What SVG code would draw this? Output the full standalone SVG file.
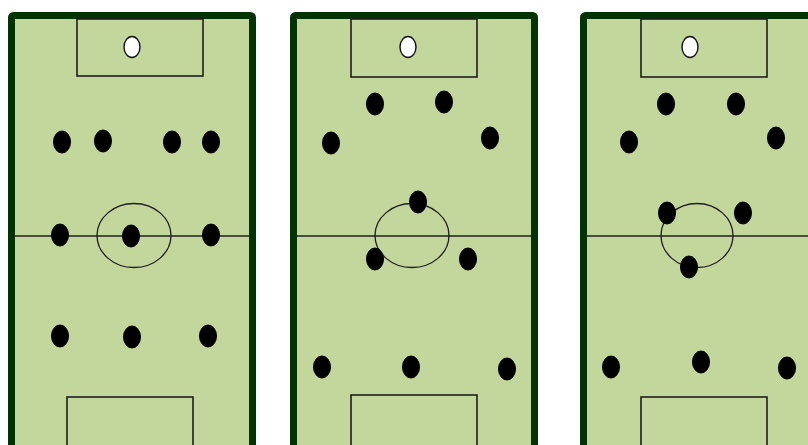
<svg xmlns="http://www.w3.org/2000/svg" width="808" height="445" viewBox="0 0 808 445">
  <style>
    .pitch { fill: #c3d69b; stroke: #023302; stroke-width: 7; }
    .line { fill: none; stroke: #1e1e1e; stroke-width: 1.6; }
    .circle { fill: none; stroke: #1e1e1e; stroke-width: 1.3; }
    .p { fill: #000; stroke: #000; stroke-width: 1; }
    .gk { fill: #fff; stroke: #111; stroke-width: 1.4; }
  </style>
  <rect x="0" y="0" width="808" height="445" fill="#ffffff"/>

  <g id="field1">
    <rect class="pitch" x="11.5" y="15.5" width="241" height="480" rx="2"/>
    <rect class="line" x="77" y="19" width="126" height="57"/>
    <rect class="line" x="67" y="397" width="126" height="60"/>
    <line class="line" x1="15" y1="236" x2="249" y2="236"/>
    <ellipse class="circle" cx="134" cy="235.5" rx="37" ry="32"/>
    <ellipse class="gk" cx="132" cy="47" rx="8" ry="10.5"/>
    <g id="f1-players">
      <ellipse class="p" cx="62" cy="142" rx="8.5" ry="11"/>
      <ellipse class="p" cx="103" cy="141" rx="8.5" ry="11"/>
      <ellipse class="p" cx="172" cy="142" rx="8.5" ry="11"/>
      <ellipse class="p" cx="211" cy="142" rx="8.5" ry="11"/>
      <ellipse class="p" cx="60" cy="235" rx="8.5" ry="11"/>
      <ellipse class="p" cx="131" cy="236" rx="8.5" ry="11"/>
      <ellipse class="p" cx="211" cy="235" rx="8.5" ry="11"/>
      <ellipse class="p" cx="60" cy="336" rx="8.5" ry="11"/>
      <ellipse class="p" cx="132" cy="337" rx="8.5" ry="11"/>
      <ellipse class="p" cx="208" cy="336" rx="8.5" ry="11"/>
    </g>
  </g>

  <g id="field2">
    <rect class="pitch" x="293.5" y="15.5" width="241" height="480" rx="2"/>
    <rect class="line" x="351" y="19" width="126" height="58"/>
    <rect class="line" x="351" y="395" width="126" height="62"/>
    <line class="line" x1="297" y1="236" x2="531" y2="236"/>
    <ellipse class="circle" cx="412" cy="235.5" rx="37" ry="32"/>
    <ellipse class="gk" cx="408" cy="47" rx="8" ry="10.5"/>
    <g id="f2-players">
      <ellipse class="p" cx="375" cy="104" rx="8.5" ry="11"/>
      <ellipse class="p" cx="444" cy="102" rx="8.5" ry="11"/>
      <ellipse class="p" cx="331" cy="143" rx="8.5" ry="11"/>
      <ellipse class="p" cx="490" cy="138" rx="8.5" ry="11"/>
      <ellipse class="p" cx="418" cy="202" rx="8.5" ry="11"/>
      <ellipse class="p" cx="375" cy="259" rx="8.5" ry="11"/>
      <ellipse class="p" cx="468" cy="259" rx="8.5" ry="11"/>
      <ellipse class="p" cx="322" cy="367" rx="8.5" ry="11"/>
      <ellipse class="p" cx="411" cy="367" rx="8.5" ry="11"/>
      <ellipse class="p" cx="507" cy="369" rx="8.5" ry="11"/>
    </g>
  </g>

  <g id="field3">
    <rect class="pitch" x="583.5" y="15.5" width="260" height="480" rx="2"/>
    <rect class="line" x="641" y="19" width="126" height="58"/>
    <rect class="line" x="641" y="397" width="126" height="60"/>
    <line class="line" x1="587" y1="236" x2="812" y2="236"/>
    <ellipse class="circle" cx="697" cy="235.5" rx="36" ry="32"/>
    <ellipse class="gk" cx="690" cy="47" rx="8" ry="10.5"/>
    <g id="f3-players">
      <ellipse class="p" cx="666" cy="104" rx="8.5" ry="11"/>
      <ellipse class="p" cx="736" cy="104" rx="8.5" ry="11"/>
      <ellipse class="p" cx="629" cy="142" rx="8.5" ry="11"/>
      <ellipse class="p" cx="776" cy="138" rx="8.5" ry="11"/>
      <ellipse class="p" cx="667" cy="213" rx="8.5" ry="11"/>
      <ellipse class="p" cx="743" cy="213" rx="8.5" ry="11"/>
      <ellipse class="p" cx="689" cy="267" rx="8.5" ry="11"/>
      <ellipse class="p" cx="611" cy="367" rx="8.5" ry="11"/>
      <ellipse class="p" cx="701" cy="362" rx="8.5" ry="11"/>
      <ellipse class="p" cx="787" cy="368" rx="8.5" ry="11"/>
    </g>
  </g>
</svg>
